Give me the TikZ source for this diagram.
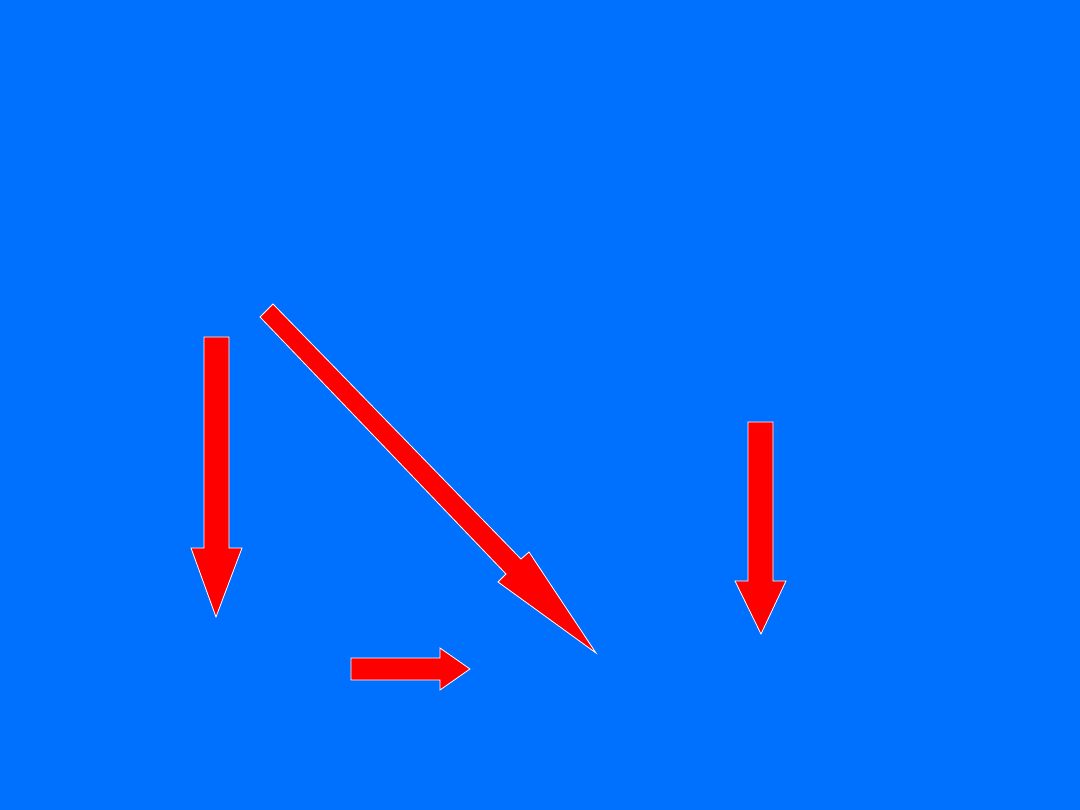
\documentclass[tikz,border=0pt]{standalone}
\usepackage{tikz}
\definecolor{slideblue}{RGB}{0,112,255}
\definecolor{arrowred}{RGB}{255,0,0}
\begin{document}
\begin{tikzpicture}[x=1pt,y=-1pt,
			blockarrow/.style={fill=arrowred,draw=white,line width=0.8pt,line join=miter}]
			\fill[slideblue] (0,0) rectangle (1080,810);
			\useasboundingbox (0,0) rectangle (1080,810);
			% left down arrow
			\draw[blockarrow] (204,337) -- (229,337) -- (229,548) -- (242,548) -- (216,617)
				-- (191,548) -- (204,548) -- cycle;
			% diagonal arrow
			\draw[blockarrow] (273,304) -- (521,559) -- (529,552) -- (596,653)
				-- (498,582) -- (506,574) -- (260,317) -- cycle;
			% right down arrow
			\draw[blockarrow] (748,422) -- (773,422) -- (773,581) -- (786,581) -- (761,634)
				-- (735,581) -- (748,581) -- cycle;
			% small right arrow
			\draw[blockarrow] (351,658) -- (440,658) -- (440,648) -- (470,669) -- (440,690)
				-- (440,680) -- (351,680) -- cycle;
		\end{tikzpicture}
\end{document}
